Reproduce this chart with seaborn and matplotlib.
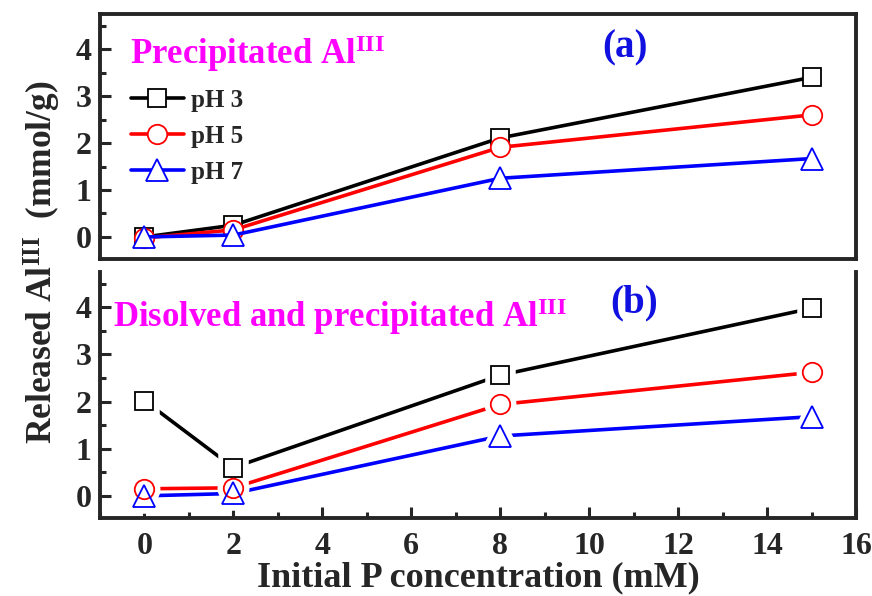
import matplotlib
matplotlib.use("Agg")
import matplotlib.pyplot as plt
import seaborn as sns
import pandas as pd
from matplotlib.ticker import MultipleLocator

# ---- data ----
conc = [0, 2, 8, 15]
series_labels = ["pH 3", "pH 5", "pH 7"]
prec_ph3 = [0.0, 0.25, 2.11, 3.40]
prec_ph5 = [-0.02, 0.15, 1.91, 2.60]
prec_ph7 = [0.0, 0.04, 1.25, 1.67]
tot_ph3 = [2.02, 0.60, 2.56, 3.98]
tot_ph5 = [0.15, 0.17, 1.94, 2.62]
tot_ph7 = [0.0, 0.05, 1.27, 1.68]
xticks = [0, 2, 4, 6, 8, 10, 12, 14, 16]
yticks = [0, 1, 2, 3, 4]

colors = ["black", "red", "blue"]
markers = ["s", "o", "^"]
msizes = [13, 14, 16]

def make_df(vals):
    rows = []
    for lab, v in zip(series_labels, vals):
        for x, y in zip(conc, v):
            rows.append({"conc": x, "val": y, "pH": lab})
    return pd.DataFrame(rows)

df_a = make_df([prec_ph3, prec_ph5, prec_ph7])
df_b = make_df([tot_ph3, tot_ph5, tot_ph7])

sns.set_theme(style="ticks")
plt.rcParams["font.family"] = ["Liberation Serif", "DejaVu Serif"]
plt.rcParams["font.weight"] = "bold"
plt.rcParams["mathtext.fontset"] = "custom"
plt.rcParams["mathtext.rm"] = "Liberation Serif:bold"
plt.rcParams["mathtext.bf"] = "Liberation Serif:bold"
plt.rcParams["mathtext.it"] = "Liberation Serif:bold"

fig = plt.figure(figsize=(8.72, 5.96), dpi=100)
L, R = 100 / 872, 856 / 872
ax1 = fig.add_axes([L, 1 - 259 / 596, R - L, (259 - 14) / 596])
ax2 = fig.add_axes([L, 1 - 518 / 596, R - L, (518 - 272) / 596])

pal = dict(zip(series_labels, colors))
mk = dict(zip(series_labels, markers))

# ---- panel (a): markers over lines ----
sns.lineplot(data=df_a, x="conc", y="val", hue="pH", style="pH", palette=pal,
             markers=mk, dashes=False, ax=ax1, legend=False, linewidth=2.6)
for ln, c, ms in zip(ax1.lines, colors, msizes):
    ln.set_markerfacecolor("white")
    ln.set_markeredgecolor(c)
    ln.set_markeredgewidth(1.3)
    ln.set_markersize(ms)
    ln.set_clip_on(False)

# ---- panel (b): lines with gaps at markers ----
sns.lineplot(data=df_b, x="conc", y="val", hue="pH", palette=pal,
             ax=ax2, legend=False, linewidth=2.6)
n0 = len(ax2.lines)
sns.lineplot(data=df_b, x="conc", y="val", hue="pH", style="pH", palette=pal,
             markers=mk, dashes=False, ax=ax2, legend=False, linestyle="")
for ln, c, ms in zip(ax2.lines[n0:], colors, msizes):
    ln.set_linestyle("None")
    ln.set_markerfacecolor("white")
    ln.set_markeredgecolor("white")
    ln.set_markeredgewidth(9)
    ln.set_markersize(ms)
    ln.set_zorder(3)
n1 = len(ax2.lines)
sns.lineplot(data=df_b, x="conc", y="val", hue="pH", style="pH", palette=pal,
             markers=mk, dashes=False, ax=ax2, legend=False, linestyle="")
for ln, c, ms in zip(ax2.lines[n1:], colors, msizes):
    ln.set_linestyle("None")
    ln.set_markerfacecolor("none")
    ln.set_markeredgecolor(c)
    ln.set_markeredgewidth(1.3)
    ln.set_markersize(ms)
    ln.set_zorder(4)

for ax in (ax1, ax2):
    ax.set_xlim(-1, 16)
    ax.set_ylim(-0.47, 4.75)
    ax.set_xlabel("")
    ax.set_ylabel("")
    ax.set_yticks(yticks)
    ax.yaxis.set_minor_locator(MultipleLocator(0.5))
    for s in ax.spines.values():
        s.set_linewidth(2.8)
    ax.tick_params(axis="y", which="major", direction="in", length=8, width=2.2,
                   labelsize=23, left=True, right=False, pad=6)
    ax.tick_params(axis="y", which="minor", direction="in", length=4, width=2.2,
                   left=True, right=False)
    for t in ax.get_yticklabels():
        t.set_fontweight("bold")

ax1.set_xticks(xticks)
ax1.tick_params(axis="x", which="both", bottom=False, top=False, labelbottom=False)

ax2.spines["top"].set_visible(False)
ax2.set_xticks(xticks)
ax2.xaxis.set_minor_locator(MultipleLocator(1))
ax2.tick_params(axis="x", which="major", direction="in", length=8, width=2.2,
                labelsize=23, pad=10)
ax2.tick_params(axis="x", which="minor", direction="in", length=4, width=2.2)
for t in ax2.get_xticklabels():
    t.set_fontweight("bold")

# legend
handles = ax1.lines[:3]
leg = ax1.legend(handles, series_labels, loc="upper left",
                 bbox_to_anchor=(0.028, 0.735), frameon=False,
                 prop={"family": "Liberation Serif", "weight": "bold", "size": 18},
                 handlelength=2.1, labelspacing=0.52, handletextpad=0.3,
                 borderaxespad=0)

# annotations
ax1.text(0.04, 0.84, r"Precipitated Al$^{\mathrm{III}}$", transform=ax1.transAxes,
         color="magenta", fontsize=25, fontweight="bold", va="center", ha="left")
ax1.text(0.695, 0.86, "(a)", transform=ax1.transAxes, color="#1010e0",
         fontsize=28, fontweight="bold", va="center", ha="center")
ax2.text(0.017, 0.82, r"Disolved and precipitated Al$^{\mathrm{III}}$",
         transform=ax2.transAxes, color="magenta", fontsize=25,
         fontweight="bold", va="center", ha="left")
ax2.text(0.706, 0.875, "(b)", transform=ax2.transAxes, color="#1010e0",
         fontsize=28, fontweight="bold", va="center", ha="center")

fig.text(0.049, 1 - 262 / 596, r"Released Al$^{\mathrm{III}}$  (mmol/g)",
         rotation=90, ha="center", va="center", fontsize=25.5, fontweight="bold")
fig.text((100 + 856) / 2 / 872, 1 - 578 / 596, "Initial P concentration (mM)",
         ha="center", va="center", fontsize=26, fontweight="bold")

fig.savefig("out.png", dpi=100)
